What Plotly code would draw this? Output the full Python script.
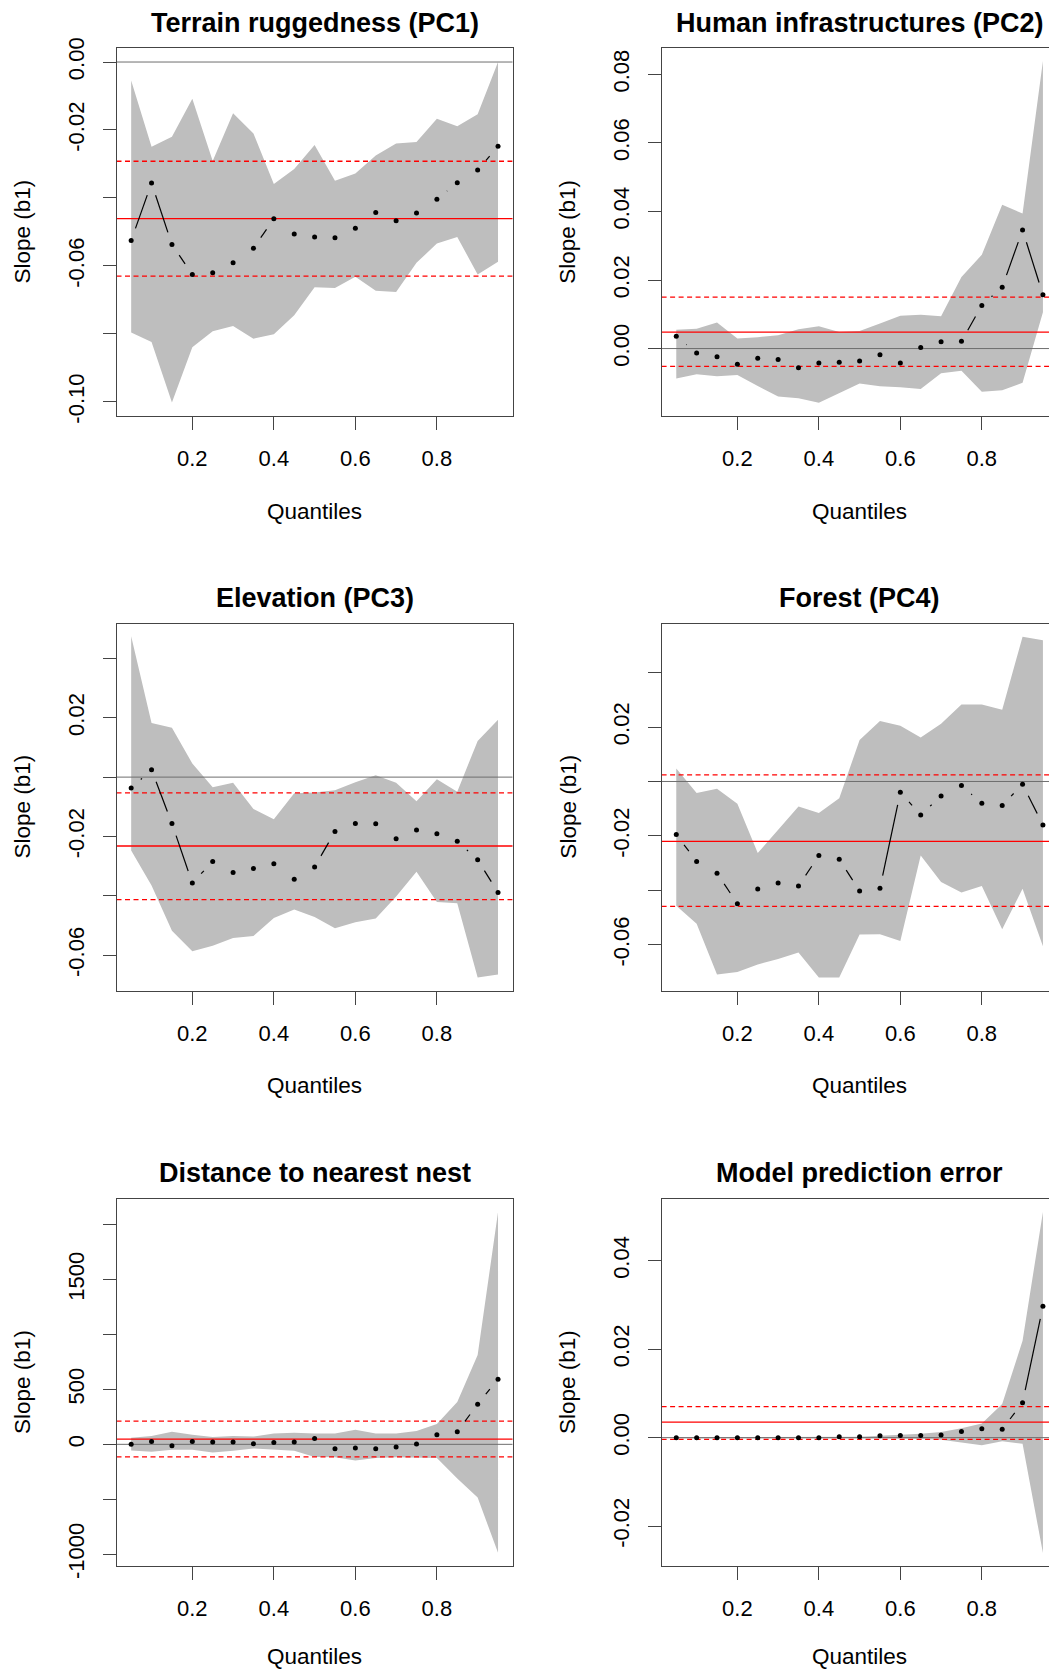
import plotly.graph_objects as go

W, H = 1049, 1676

quantiles = [0.05, 0.10, 0.15, 0.20, 0.25, 0.30, 0.35, 0.40, 0.45, 0.50,
             0.55, 0.60, 0.65, 0.70, 0.75, 0.80, 0.85, 0.90, 0.95]

titles = ["Terrain ruggedness (PC1)", "Human infrastructures (PC2)",
          "Elevation (PC3)", "Forest (PC4)",
          "Distance to nearest nest", "Model prediction error"]

# ---- Terrain ruggedness (PC1)
pc1_slope = [-0.0525, -0.0356, -0.0537, -0.0625, -0.0620, -0.0591, -0.0548, -0.0461, -0.0506, -0.0515,
             -0.0517, -0.0489, -0.0443, -0.0467, -0.0444, -0.0404, -0.0355, -0.0318, -0.0248]
pc1_upper = [-0.0054, -0.0249, -0.0220, -0.0108, -0.0291, -0.0151, -0.0210, -0.0359, -0.0315, -0.0244,
             -0.0349, -0.0328, -0.0275, -0.0240, -0.0235, -0.0167, -0.0189, -0.0154, 0.0000]
pc1_lower = [-0.0796, -0.0824, -0.1002, -0.0839, -0.0792, -0.0777, -0.0814, -0.0801, -0.0745, -0.0663,
             -0.0665, -0.0632, -0.0673, -0.0677, -0.0591, -0.0534, -0.0515, -0.0625, -0.0588]
pc1_ols = [-0.0461, -0.0630, -0.0292]

# ---- Human infrastructures (PC2)
pc2_slope = [0.0036, -0.0013, -0.0024, -0.0046, -0.0028, -0.0032, -0.0056, -0.0042, -0.0040, -0.0036,
             -0.0018, -0.0042, 0.0003, 0.0020, 0.0021, 0.0126, 0.0179, 0.0346, 0.0157]
pc2_upper = [0.0055, 0.0058, 0.0076, 0.0029, 0.0033, 0.0039, 0.0056, 0.0065, 0.0048, 0.0051,
             0.0073, 0.0096, 0.0099, 0.0094, 0.0209, 0.0274, 0.0420, 0.0394, 0.0839]
pc2_lower = [-0.0087, -0.0075, -0.0081, -0.0077, -0.0109, -0.0140, -0.0145, -0.0158, -0.0130, -0.0102,
             -0.0110, -0.0113, -0.0118, -0.0072, -0.0065, -0.0126, -0.0122, -0.0100, 0.0106]
pc2_ols = [0.0048, -0.0052, 0.0150]

# ---- Elevation (PC3)
pc3_slope = [-0.0037, 0.0025, -0.0156, -0.0357, -0.0284, -0.0321, -0.0308, -0.0292, -0.0344, -0.0303,
             -0.0183, -0.0156, -0.0157, -0.0208, -0.0178, -0.0191, -0.0216, -0.0278, -0.0389]
pc3_upper = [0.0475, 0.0182, 0.0166, 0.0046, -0.0034, -0.0019, -0.0107, -0.0142, -0.0054, -0.0052,
             -0.0044, -0.0017, 0.0006, -0.0019, -0.0081, -0.0007, -0.0049, 0.0122, 0.0193]
pc3_lower = [-0.0247, -0.0365, -0.0518, -0.0587, -0.0568, -0.0542, -0.0535, -0.0475, -0.0446, -0.0471,
             -0.0509, -0.0489, -0.0476, -0.0402, -0.0319, -0.0421, -0.0425, -0.0675, -0.0665]
pc3_ols = [-0.0232, -0.0413, -0.0053]

# ---- Forest (PC4)
pc4_slope = [-0.0195, -0.0294, -0.0337, -0.0449, -0.0395, -0.0373, -0.0384, -0.0272, -0.0286, -0.0402,
             -0.0392, -0.0040, -0.0123, -0.0053, -0.0015, -0.0080, -0.0088, -0.0010, -0.0160]
pc4_upper = [0.0048, -0.0042, -0.0027, -0.0082, -0.0263, -0.0177, -0.0092, -0.0116, -0.0062, 0.0152,
             0.0222, 0.0205, 0.0162, 0.0212, 0.0283, 0.0283, 0.0264, 0.0532, 0.0519]
pc4_lower = [-0.0457, -0.0523, -0.0709, -0.0700, -0.0672, -0.0652, -0.0628, -0.0720, -0.0720, -0.0562,
             -0.0561, -0.0586, -0.0272, -0.0369, -0.0408, -0.0384, -0.0543, -0.0394, -0.0605]
pc4_ols = [-0.0220, -0.0459, 0.0024]

# ---- Distance to nearest nest
nest_slope = [0, 25, -12, 25, 22, 22, 6, 16, 22, 53,
              -40, -34, -40, -25, 3, 87, 115, 366, 593]
nest_upper = [59, 75, 115, 87, 68, 75, 71, 99, 106, 99,
              99, 134, 99, 99, 121, 186, 385, 814, 2115]
nest_lower = [-56, -68, -50, -50, -75, -59, -37, -50, -59, -115,
              -118, -146, -124, -118, -118, -124, -311, -484, -988]
nest_ols = [47, -115, 211]

# ---- Model prediction error
err_slope = [0.0000, 0.0000, 0.0000, 0.0000, 0.0000, 0.0000, 0.0000, 0.0000, 0.0002, 0.0002,
             0.0004, 0.0005, 0.0005, 0.0006, 0.0014, 0.0020, 0.0019, 0.0079, 0.0297]
err_upper = [0.0001, 0.0001, 0.0001, 0.0001, 0.0001, 0.0001, 0.0001, 0.0001, 0.0001, 0.0002,
             0.0004, 0.0006, 0.0009, 0.0013, 0.0021, 0.0032, 0.0076, 0.0219, 0.0510]
err_lower = [-0.0002, -0.0002, -0.0002, -0.0002, -0.0002, -0.0002, -0.0002, -0.0002, -0.0002, -0.0002,
             -0.0002, -0.0002, -0.0003, -0.0005, -0.0011, -0.0017, -0.0008, -0.0014, -0.0261]
err_ols = [0.0035, -0.0004, 0.0070]

# y tick values / labels (R hides overlapping labels)
pc1_ticks = [0.0, -0.02, -0.04, -0.06, -0.08, -0.10]
pc1_ticktext = ["0.00", "-0.02", "", "-0.06", "", "-0.10"]
pc2_ticks = [0.0, 0.02, 0.04, 0.06, 0.08]
pc2_ticktext = ["0.00", "0.02", "0.04", "0.06", "0.08"]
pc3_ticks = [0.04, 0.02, 0.0, -0.02, -0.04, -0.06]
pc3_ticktext = ["", "0.02", "", "-0.02", "", "-0.06"]
pc4_ticks = [0.04, 0.02, 0.0, -0.02, -0.04, -0.06]
pc4_ticktext = ["", "0.02", "", "-0.02", "", "-0.06"]
nest_ticks = [2000, 1500, 1000, 500, 0, -500, -1000]
nest_ticktext = ["", "1500", "", "500", "0", "", "-1000"]
err_ticks = [0.04, 0.02, 0.0, -0.02]
err_ticktext = ["0.04", "0.02", "0.00", "-0.02"]

x_ticks = [0.2, 0.4, 0.6, 0.8]
x_ticktext = ["0.2", "0.4", "0.6", "0.8"]

# y-axis ranges (as in R plot limits)
y_ranges = [(-0.10415, 0.00405), (-0.01967, 0.08763),
            (-0.07190, 0.05175), (-0.07681, 0.05804),
            (-1108.7, 2236.0), (-0.02905, 0.05401)]

panels = [
    (pc1_slope, pc1_upper, pc1_lower, pc1_ols, pc1_ticks, pc1_ticktext),
    (pc2_slope, pc2_upper, pc2_lower, pc2_ols, pc2_ticks, pc2_ticktext),
    (pc3_slope, pc3_upper, pc3_lower, pc3_ols, pc3_ticks, pc3_ticktext),
    (pc4_slope, pc4_upper, pc4_lower, pc4_ols, pc4_ticks, pc4_ticktext),
    (nest_slope, nest_upper, nest_lower, nest_ols, nest_ticks, nest_ticktext),
    (err_slope, err_upper, err_lower, err_ols, err_ticks, err_ticktext),
]

# ---- layout geometry (pixels)
FONT = "Liberation Sans, Arial, sans-serif"
TXT = "#000000"
BOX = "#444444"
cols = [(116.5, 512.7), (661.6, 1057.6)]   # right column is cut by the page edge
rows = [(46.5, 415.0), (623.0, 990.8), (1199.5, 1567.6)]
XMIN, XMAX = 0.014, 0.986
GAP = 13.0  # px gap of R's type="b" lines around points

# vertical calibration of the page photo (observed y_photo = YA + YB * y_page)
YA, YB = 9.16, 0.9878


def ypage(y_target):
    return (y_target - YA) / YB


fig = go.Figure()
layout = dict(width=W, height=H, margin=dict(l=0, r=0, t=0, b=0),
              paper_bgcolor="white", plot_bgcolor="white", showlegend=False,
              font=dict(family=FONT, color=TXT))
annotations = []

for i, (slope, upper, lower, ols, yt, ytt) in enumerate(panels):
    r, c = divmod(i, 2)
    x0p, x1p = cols[c]
    top_t, bot_t = rows[r]
    top, bot = ypage(top_t), ypage(bot_t)
    px_per_x = (x1p - x0p) / (XMAX - XMIN)
    vis_right = min(x1p, W)
    xr = (XMIN, XMIN + (vis_right - x0p) / px_per_x)
    yr = y_ranges[i]
    px_per_y = (bot - top) / (yr[1] - yr[0])
    n = i + 1
    xa = "x" if n == 1 else f"x{n}"
    ya = "y" if n == 1 else f"y{n}"
    xkey = "xaxis" if n == 1 else f"xaxis{n}"
    ykey = "yaxis" if n == 1 else f"yaxis{n}"

    layout[xkey] = dict(domain=[x0p / W, vis_right / W], range=list(xr), anchor=ya,
                        showgrid=False, zeroline=False, showline=True, mirror=True,
                        linecolor=BOX, linewidth=1, ticks="outside", ticklen=13,
                        tickwidth=1, tickcolor=BOX, tickvals=x_ticks, ticktext=x_ticktext,
                        tickfont=dict(size=22, family=FONT, color=TXT),
                        ticklabelstandoff=10)
    layout[ykey] = dict(domain=[1 - bot / H, 1 - top / H], range=list(yr), anchor=xa,
                        showgrid=False, zeroline=False, showline=True,
                        mirror=(c == 0), linecolor=BOX, linewidth=1,
                        ticks="outside", ticklen=13, tickwidth=1, tickcolor=BOX,
                        tickvals=yt, ticktext=ytt, tickangle=-90,
                        tickfont=dict(size=22, family=FONT, color=TXT),
                        ticklabelstandoff=10)

    # confidence band
    fig.add_trace(go.Scatter(x=quantiles + quantiles[::-1], y=upper + lower[::-1],
                             fill="toself", fillcolor="#BEBEBE", mode="lines",
                             line=dict(width=0, color="#BEBEBE"), xaxis=xa, yaxis=ya,
                             hoverinfo="skip"))
    # zero line
    fig.add_trace(go.Scatter(x=list(xr), y=[0, 0], mode="lines",
                             line=dict(color="#6e6e6e", width=1), xaxis=xa, yaxis=ya))
    # OLS estimate and CI
    fig.add_trace(go.Scatter(x=list(xr), y=[ols[0], ols[0]], mode="lines",
                             line=dict(color="#FF0000", width=1.3), xaxis=xa, yaxis=ya))
    for v in ols[1:]:
        fig.add_trace(go.Scatter(x=list(xr), y=[v, v], mode="lines",
                                 line=dict(color="#FF0000", width=1.3, dash="5px,3.5px"),
                                 xaxis=xa, yaxis=ya))
    # type="b" connecting segments with gaps around points
    sx, sy = [], []
    for k in range(len(quantiles) - 1):
        xa0, ya0 = quantiles[k], slope[k]
        xa1, ya1 = quantiles[k + 1], slope[k + 1]
        dx = (xa1 - xa0) * px_per_x
        dy = (ya1 - ya0) * px_per_y
        L = (dx * dx + dy * dy) ** 0.5
        if L > 2 * GAP:
            t0, t1 = GAP / L, 1 - GAP / L
            sx += [xa0 + t0 * (xa1 - xa0), xa0 + t1 * (xa1 - xa0), None]
            sy += [ya0 + t0 * (ya1 - ya0), ya0 + t1 * (ya1 - ya0), None]
    fig.add_trace(go.Scatter(x=sx, y=sy, mode="lines", line=dict(color="black", width=1.2),
                             xaxis=xa, yaxis=ya, connectgaps=False))
    fig.add_trace(go.Scatter(x=quantiles, y=slope, mode="markers",
                             marker=dict(color="black", size=5), xaxis=xa, yaxis=ya))

    cx = (x0p + x1p) / 2
    annotations.append(dict(text="<b>" + titles[i] + "</b>", xref="paper", yref="paper",
                            x=cx / W, y=1 - ypage(top_t - 25.5) / H,
                            xanchor="center", yanchor="middle",
                            showarrow=False, font=dict(size=27, family=FONT, color=TXT)))
    annotations.append(dict(text="Quantiles", xref="paper", yref="paper",
                            x=cx / W, y=max(1 - ypage(bot_t + 95.6) / H, 6.5 / H),
                            xanchor="center", yanchor="middle",
                            showarrow=False, font=dict(size=22.5, family=FONT, color=TXT)))
    annotations.append(dict(text="Slope (b1)", xref="paper", yref="paper", textangle=-90,
                            x=(x0p - 94) / W, y=1 - ypage((top_t + bot_t) / 2) / H,
                            xanchor="center", yanchor="middle",
                            showarrow=False, font=dict(size=22.5, family=FONT, color=TXT)))

layout["annotations"] = annotations
fig.update_layout(**layout)
fig.write_html("out.html")
